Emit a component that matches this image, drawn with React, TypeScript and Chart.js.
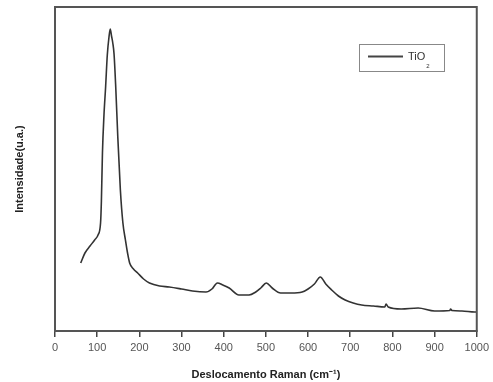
import React, { useEffect, useRef } from "react";
import { Chart, registerables } from "chart.js";

Chart.register(...registerables);

// Raman shift (cm^-1)
const ramanShift = [
  61, 71, 83, 94, 102, 108, 110, 112.5, 116, 120, 124, 128, 131, 134, 137, 140, 144, 149, 155, 161, 167, 172, 177,
  186, 196, 210, 224, 248, 271, 300, 326, 358, 372, 385, 398, 413, 436, 460, 476, 488, 501, 515, 535, 560, 586, 600,
  615, 629, 642, 656, 672, 688, 707, 727, 755, 782, 785, 790, 821, 861, 900, 936, 938, 941, 965, 995, 1000,
];
// Intensity (a.u.)
const intensity = [
  68, 78, 85, 91, 96, 108, 130, 178, 215, 244, 276, 294, 302, 295, 288, 277, 244, 193, 141, 108, 91, 78, 68,
  62, 58, 52, 48, 45, 44, 42, 40, 39, 42, 48, 46, 43, 36, 36, 39, 43, 48, 43, 38, 38, 39, 42,
  47, 54, 47, 41, 35, 31, 28, 26, 25, 24, 27, 24, 22, 23, 20, 20.5, 22, 20.5, 20, 19, 19,
];
const xTicks = [0, 100, 200, 300, 400, 500, 600, 700, 800, 900, 1000];
const seriesLabel = "TiO";
const seriesSub = "2";
const xTitle = "Deslocamento Raman (cm⁻¹)";
const yTitle = "Intensidade(u.a.)";

export default function App() {
  const ref = useRef<HTMLCanvasElement>(null);
  useEffect(() => {
    document.body.style.margin = "0";
    const frame = {
      id: "frame",
      afterDraw(chart: any) {
        const { ctx, chartArea: a } = chart;
        ctx.save();
        ctx.strokeStyle = "#555";
        ctx.lineWidth = 2;
        ctx.strokeRect(a.left, a.top, a.right - a.left, a.bottom - a.top);
        // legend box
        const lx = a.left + 304, ly = a.top + 37;
        ctx.lineWidth = 1;
        ctx.strokeStyle = "#888";
        ctx.strokeRect(lx + 0.5, ly + 0.5, 85, 27);
        ctx.strokeStyle = "#444";
        ctx.lineWidth = 2;
        ctx.beginPath();
        ctx.moveTo(lx + 9, ly + 12.5);
        ctx.lineTo(lx + 44, ly + 12.5);
        ctx.stroke();
        ctx.fillStyle = "#333";
        ctx.font = "11px 'Liberation Sans', Arial, sans-serif";
        ctx.textBaseline = "middle";
        ctx.textAlign = "left";
        ctx.fillText(seriesLabel, lx + 49, ly + 12.5);
        const w = ctx.measureText(seriesLabel).width;
        ctx.font = "6px 'Liberation Sans', Arial, sans-serif";
        ctx.fillText(seriesSub, lx + 50 + w, ly + 22);
        ctx.restore();
      },
    };
    const chart = new Chart(ref.current!, {
      type: "line",
      data: {
        datasets: [
          {
            label: seriesLabel + seriesSub,
            data: ramanShift.map((x, i) => ({ x, y: intensity[i] })),
            borderColor: "#333",
            borderWidth: 1.6,
            pointRadius: 0,
            cubicInterpolationMode: "monotone",
            fill: false,
          },
        ],
      },
      options: {
        animation: false,
        responsive: false,
        maintainAspectRatio: false,
        layout: { padding: { top: 7, right: 12, left: 0, bottom: 0 } },
        plugins: { legend: { display: false }, tooltip: { enabled: false } },
        scales: {
          x: {
            type: "linear",
            min: 0,
            max: 1000,
            afterBuildTicks: (s: any) => {
              s.ticks = xTicks.map((v) => ({ value: v }));
            },
            afterFit: (s: any) => {
              s.height = 51;
            },
            grid: { drawOnChartArea: false, drawTicks: true, tickLength: 6, color: "#444", lineWidth: 1.5 },
            border: { display: true, color: "#555", width: 2 },
            ticks: {
              color: "#555",
              padding: 4,
              maxRotation: 0,
              autoSkip: false,
              callback: (v: any) => String(v),
              font: { family: "'Liberation Sans', Arial, sans-serif", size: 11 },
            },
            title: {
              display: true,
              text: xTitle,
              color: "#222",
              padding: { top: 0, bottom: 0 },
              font: { family: "'Liberation Sans', Arial, sans-serif", size: 11, weight: "bold" },
            },
          },
          y: {
            type: "linear",
            min: 0,
            max: 324,
            afterFit: (s: any) => {
              s.width = 55;
            },
            grid: { display: false, drawTicks: false },
            border: { display: true, color: "#555", width: 2 },
            ticks: { display: false },
            title: {
              display: true,
              text: yTitle,
              color: "#222",
              padding: { top: 13, bottom: 0 },
              font: { family: "'Liberation Sans', Arial, sans-serif", size: 11, weight: "bold" },
            },
          },
        },
      },
      plugins: [frame],
    } as any);
    return () => chart.destroy();
  }, []);
  return (
    <div style={{ width: 493, height: 382, background: "#fff" }}>
      <canvas ref={ref} width={493} height={382} style={{ display: "block" }} />
    </div>
  );
}
